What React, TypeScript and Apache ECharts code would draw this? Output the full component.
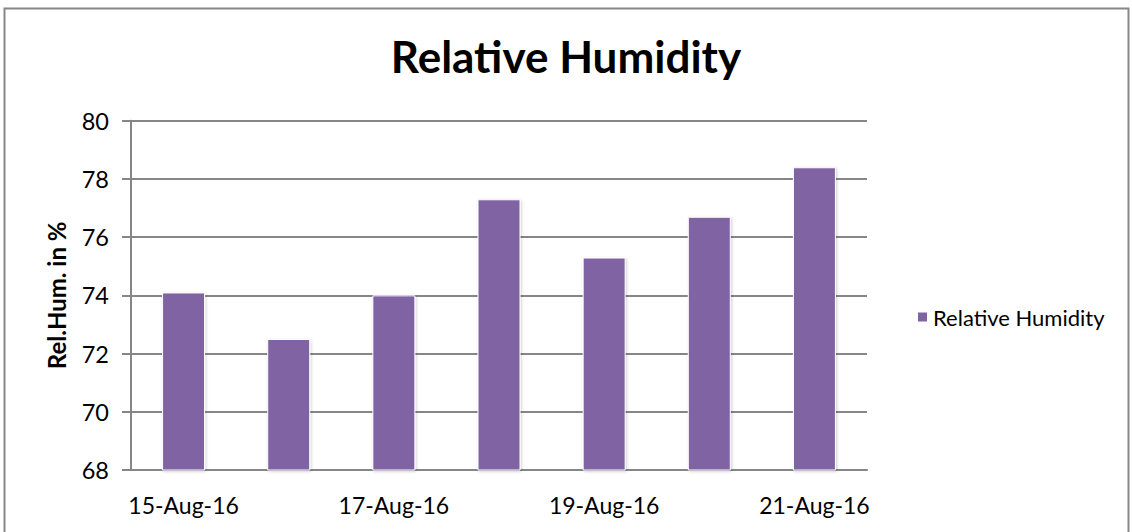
import React, { useEffect, useRef } from "react";
import * as echarts from "echarts";

const categories = ["15-Aug-16", "16-Aug-16", "17-Aug-16", "18-Aug-16", "19-Aug-16", "20-Aug-16", "21-Aug-16"];
const humidity = [74.1, 72.5, 74.0, 77.3, 75.3, 76.7, 78.4];
const seriesName = "Relative Humidity";
const titleText = "Relative Humidity";
const yAxisName = "Rel.Hum. in %";

const FONT = "Lato";

export default function App() {
  const ref = useRef<HTMLDivElement>(null);
  useEffect(() => {
    if (!ref.current) return;
    const chart = echarts.init(ref.current, undefined, { renderer: "svg" });
    chart.setOption({
      animation: false,
      backgroundColor: "#ffffff",
      textStyle: { fontFamily: FONT },
      title: {
        text: titleText,
        left: "center",
        top: 29,
        textStyle: { fontFamily: FONT, fontWeight: "bold", fontSize: 44, color: "#000" },
      },
      legend: {
        data: [seriesName],
        orient: "vertical",
        left: 911,
        top: 301,
        icon: "rect",
        itemWidth: 11,
        itemHeight: 11,
        textStyle: { fontFamily: FONT, fontSize: 22, color: "#000" },
      },
      grid: { left: 131, right: 265, top: 120.7, bottom: 62, containLabel: false },
      xAxis: {
        type: "category",
        data: categories,
        axisLine: { lineStyle: { color: "#868686", width: 2 } },
        axisTick: { show: false },
        axisLabel: { interval: 1, margin: 23, fontFamily: FONT, fontSize: 23, color: "#000" },
      },
      yAxis: {
        type: "value",
        min: 68,
        max: 80,
        interval: 2,
        name: yAxisName,
        nameLocation: "middle",
        nameRotate: 90,
        nameGap: 63,
        nameTextStyle: { fontFamily: FONT, fontWeight: "bold", fontSize: 24, color: "#000" },
        axisLine: { show: true, lineStyle: { color: "#868686", width: 2 } },
        axisTick: { show: true, inside: false, length: 9, lineStyle: { color: "#868686", width: 2 } },
        axisLabel: { margin: 22, fontFamily: FONT, fontSize: 23.5, color: "#000" },
        splitLine: { show: true, lineStyle: { color: "#868686", width: 2 } },
      },
      series: [
        {
          name: seriesName,
          type: "bar",
          data: humidity,
          barWidth: 43,
          itemStyle: {
            color: "#8064A2",
            borderColor: "#ffffff",
            borderWidth: 1,
            shadowBlur: 3,
            shadowColor: "rgba(0,0,0,0.2)",
            shadowOffsetX: 1,
            shadowOffsetY: 1,
          },
        },
      ],
      graphic: [
        {
          type: "rect",
          shape: { x: 4.5, y: 8.5, width: 1124, height: 600 },
          style: { fill: "none", stroke: "#878787", lineWidth: 2 },
          silent: true,
        },
      ],
    });
    return () => chart.dispose();
  }, []);
  return (
    <div
      ref={ref}
      style={{ position: "absolute", left: 0, top: 0, width: 1132, height: 532, background: "#fff" }}
    />
  );
}
